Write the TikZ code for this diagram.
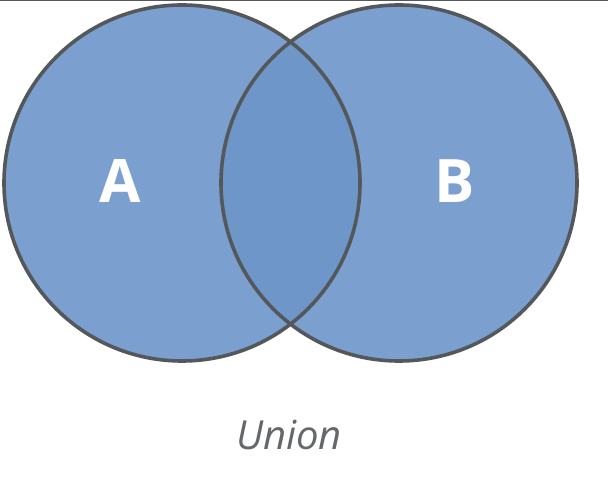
\documentclass[tikz,border=0pt]{standalone}
\usepackage{fontspec}
\setmainfont{Open Sans}
\definecolor{setfill}{RGB}{123,160,207}
\definecolor{capfill}{RGB}{111,150,201}
\definecolor{rimgray}{RGB}{84,88,90}
\definecolor{captiongray}{RGB}{100,104,106}
\tikzset{
  setlabel/.style={text=white,font=\bfseries\fontsize{60}{60}\selectfont},
  caption/.style={text=captiongray,font=\itshape\fontsize{40}{40}\selectfont},
}
\begin{document}
\begin{tikzpicture}[x=1pt,y=-1pt]
			%%%%% START %%%%%
			\def\rad{178}
			\def\ymid{183}
			\def\xa{182}
			\def\xb{399}
			\def\rim{3.6pt}

			\useasboundingbox[fill=white] (0,0) rectangle (608,478);
			\draw[rimgray,line width=1.4pt] (0,0.7) -- (608,0.7);

			\coordinate (ca) at (\xa,\ymid);
			\coordinate (cb) at (\xb,\ymid);

			\fill[setfill] (ca) circle (\rad);
			\fill[setfill] (cb) circle (\rad);
			\begin{scope}
				\clip (ca) circle (\rad);
				\fill[capfill] (cb) circle (\rad);
			\end{scope}
			\draw[rimgray,line width=\rim] (ca) circle (\rad);
			\draw[rimgray,line width=\rim] (cb) circle (\rad);

			\node[setlabel] (la) at (120,181) {A};
			\node[setlabel] (lb) at (455,181) {B};
			\node[caption] (union) at (289,435) {Union};
			%%%%% END %%%%%
\end{tikzpicture}
\end{document}
